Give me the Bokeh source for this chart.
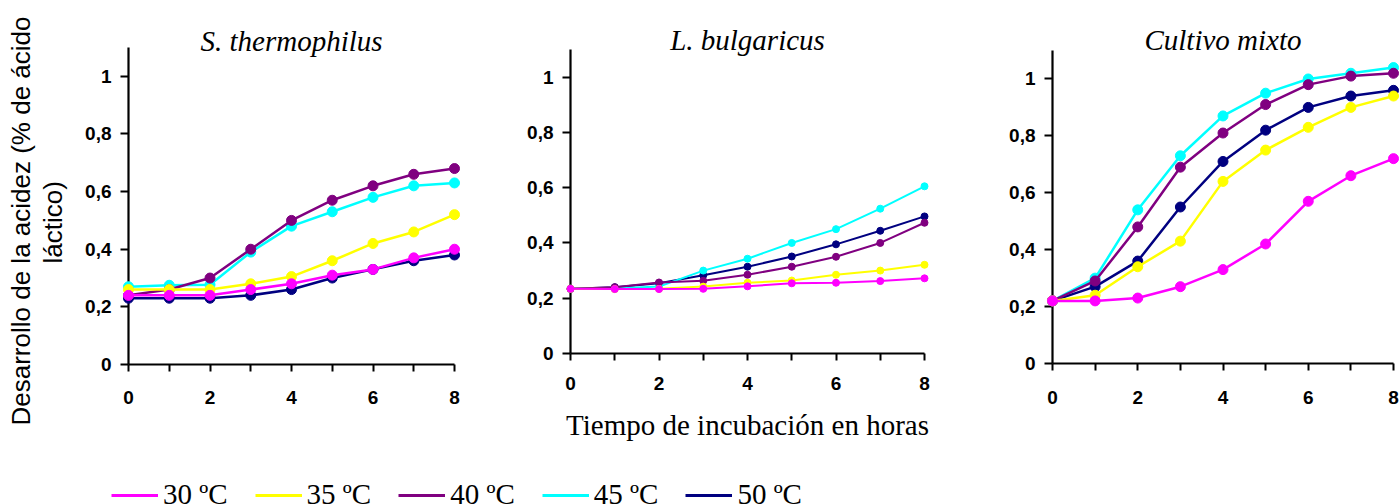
from bokeh.plotting import figure
from bokeh.layouts import column, row
from bokeh.models import FixedTicker, Legend, LegendItem, Range1d, Title
from bokeh.embed import file_html
from bokeh.resources import INLINE

# ---------------- data ----------------
hours = [0, 1, 2, 3, 4, 5, 6, 7, 8]
temps = ["30 ºC", "35 ºC", "40 ºC", "45 ºC", "50 ºC"]
colors = ["#FF00FF", "#FFFF00", "#800080", "#00FFFF", "#000080"]
panel_titles = ["S. thermophilus", "L. bulgaricus", "Cultivo mixto"]
y_ticks = [0, 0.2, 0.4, 0.6, 0.8, 1]
y_tick_labels = ["0", "0,2", "0,4", "0,6", "0,8", "1"]
x_tick_labels = ["0", "", "2", "", "4", "", "6", "", "8"]
y_label_lines = ["Desarrollo de la acidez (% de ácido", "láctico)"]
x_label = "Tiempo de incubación en horas"

thermo_30 = [0.24, 0.24, 0.24, 0.26, 0.28, 0.31, 0.33, 0.37, 0.40]
thermo_35 = [0.26, 0.26, 0.26, 0.28, 0.305, 0.36, 0.42, 0.46, 0.52]
thermo_40 = [0.24, 0.26, 0.30, 0.40, 0.50, 0.57, 0.62, 0.66, 0.68]
thermo_45 = [0.27, 0.275, 0.277, 0.39, 0.48, 0.53, 0.58, 0.62, 0.63]
thermo_50 = [0.23, 0.23, 0.23, 0.24, 0.26, 0.30, 0.33, 0.36, 0.38]

bulg_30 = [0.234, 0.233, 0.233, 0.234, 0.243, 0.254, 0.256, 0.262, 0.272]
bulg_35 = [0.234, 0.233, 0.234, 0.242, 0.256, 0.264, 0.285, 0.300, 0.321]
bulg_40 = [0.234, 0.240, 0.257, 0.263, 0.285, 0.314, 0.350, 0.400, 0.473]
bulg_45 = [0.234, 0.235, 0.242, 0.300, 0.343, 0.400, 0.450, 0.524, 0.605]
bulg_50 = [0.234, 0.240, 0.254, 0.283, 0.314, 0.351, 0.395, 0.444, 0.496]

mixto_30 = [0.22, 0.22, 0.23, 0.27, 0.33, 0.42, 0.57, 0.66, 0.72]
mixto_35 = [0.22, 0.24, 0.34, 0.43, 0.64, 0.75, 0.83, 0.90, 0.94]
mixto_40 = [0.22, 0.29, 0.48, 0.69, 0.81, 0.91, 0.98, 1.01, 1.02]
mixto_45 = [0.22, 0.30, 0.54, 0.73, 0.87, 0.95, 1.00, 1.02, 1.04]
mixto_50 = [0.22, 0.27, 0.36, 0.55, 0.71, 0.82, 0.90, 0.94, 0.96]

thermo = [thermo_30, thermo_35, thermo_40, thermo_45, thermo_50]
bulg = [bulg_30, bulg_35, bulg_40, bulg_45, bulg_50]
mixto = [mixto_30, mixto_35, mixto_40, mixto_45, mixto_50]

SANS = "Liberation Sans"
SERIF = "Liberation Serif"
PANEL_H = 460


def make_panel(title, series, width, bl, br, bt, bb, lw, ms, t_stand, x_stand):
    p = figure(width=width, height=PANEL_H, x_range=Range1d(0, 8), y_range=Range1d(0, 1.1),
               output_backend="svg", toolbar_location=None,
               min_border_left=bl, min_border_right=br,
               min_border_top=bt, min_border_bottom=bb)
    p.title.visible = False
    p.outline_line_color = None
    p.grid.visible = False

    # draw 50 ºC first, 30 ºC last
    for vals, c in reversed(list(zip(series, colors))):
        p.line(hours, vals, line_color=c, line_width=lw, level="overlay")
        p.scatter(hours, vals, size=ms, fill_color=c, line_color=c, level="overlay")

    for ax in (p.xaxis, p.yaxis):
        ax.axis_line_width = 2.2
        ax.axis_line_color = "black"
        ax.major_tick_line_width = 2
        ax.major_tick_line_color = "black"
        ax.major_tick_in = 0
        ax.minor_tick_line_color = None
        ax.major_label_text_font = SANS
        ax.major_label_text_font_style = "bold"
        ax.major_label_text_font_size = "19px"
        ax.major_label_text_color = "black"

    p.xaxis.ticker = FixedTicker(ticks=hours)
    p.xaxis.major_label_overrides = {h: lab for h, lab in zip(hours, x_tick_labels)}
    p.xaxis.major_tick_out = 7
    p.xaxis.major_label_standoff = x_stand

    p.yaxis.ticker = FixedTicker(ticks=y_ticks)
    p.yaxis.major_label_overrides = {t: lab for t, lab in zip(y_ticks, y_tick_labels)}
    p.yaxis.major_tick_out = 8
    p.yaxis.major_label_standoff = 9

    p.add_layout(Title(text=title, align="center", vertical_align="bottom",
                       standoff=t_stand, text_font=SERIF, text_font_style="italic",
                       text_font_size="29px", text_color="black"), "above")
    return p


# frame bottoms: 364, 353, 363 px from the top of the picture
p1 = make_panel(panel_titles[0], thermo, 500, 128, 46, 47, PANEL_H - 364, 2.5, 10, -18, 19)
p2 = make_panel(panel_titles[1], bulg, 490, 70, 66, 49, PANEL_H - 353, 2.0, 7, -12, 16)
p3 = make_panel(panel_titles[2], mixto, 410, 62, 7, 50, PANEL_H - 363, 2.5, 10, -10, 20)

# y-axis title, two lines, on the first panel (inner line first)
p1.add_layout(Title(text=y_label_lines[1], align="left", offset=101, vertical_align="bottom",
                    standoff=30, text_font=SANS, text_font_style="normal",
                    text_font_size="26px", text_color="black"), "left")
p1.add_layout(Title(text=y_label_lines[0], align="left", offset=-61, vertical_align="bottom",
                    standoff=-31, text_font=SANS, text_font_style="normal",
                    text_font_size="26px", text_color="black"), "left")

# x-axis title under the middle panel
p2.xaxis.axis_label = x_label
p2.xaxis.axis_label_standoff = 16
p2.xaxis.axis_label_text_font = SERIF
p2.xaxis.axis_label_text_font_style = "normal"
p2.xaxis.axis_label_text_font_size = "29px"
p2.xaxis.axis_label_text_color = "black"

# legend strip
lf = figure(width=1400, height=504 - PANEL_H, x_range=Range1d(0, 1), y_range=Range1d(0, 1),
            output_backend="svg", toolbar_location=None, min_border=0,
            x_axis_location=None, y_axis_location=None)
lf.title.visible = False
lf.outline_line_color = None
lf.grid.visible = False
items = []
for t, c in zip(temps, colors):
    r = lf.line(x=[-1], y=[-1], line_color=c, line_width=3)
    items.append(LegendItem(label=t, renderers=[r]))
legend = Legend(items=items, orientation="horizontal", location=(111, -7),
                glyph_width=47, glyph_height=28, label_standoff=5, spacing=27,
                padding=0, margin=0, border_line_color=None, background_fill_alpha=0,
                label_text_font=SERIF, label_text_font_size="29px", label_text_color="black",
                label_text_baseline="alphabetic")
lf.add_layout(legend)

layout = column(row(column(p1), column(p2), column(p3)), lf)

with open("out.html", "w") as f:
    f.write(file_html(layout, INLINE))
